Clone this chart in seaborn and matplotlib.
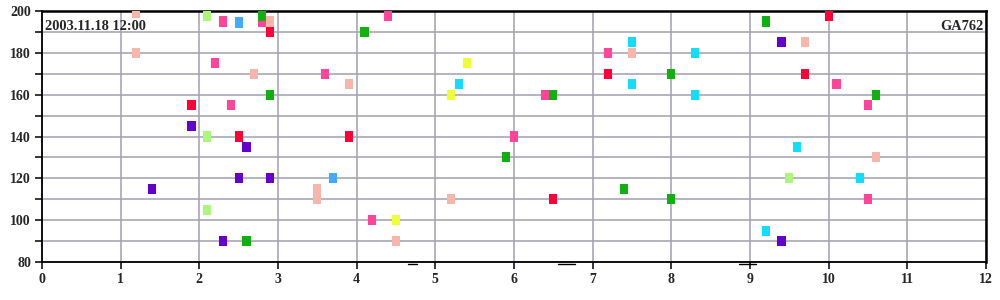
import matplotlib
matplotlib.use("Agg")
import matplotlib.pyplot as plt
import seaborn as sns
import pandas as pd
from matplotlib.ticker import MultipleLocator

# ---- data ----
salmon_x = [1.2, 2.9, 1.2, 2.7, 3.9, 7.5, 9.7, 10.6, 3.5, 3.5, 5.2, 4.5]
salmon_y = [199, 195, 180, 170, 165, 180, 185, 130, 115, 110, 110, 90]
pink_x = [2.3, 2.8, 4.4, 2.2, 3.6, 7.2, 10.1, 6.4, 2.4, 10.5, 6.0, 10.5, 4.2]
pink_y = [195, 195, 197.5, 175, 170, 180, 165, 160, 155, 155, 140, 110, 100]
red_x = [2.9, 10.0, 7.2, 9.7, 1.9, 2.5, 3.9, 6.5]
red_y = [190, 197.5, 170, 170, 155, 140, 140, 110]
purple_x = [9.4, 1.9, 2.6, 2.5, 2.9, 1.4, 2.3, 9.4]
purple_y = [185, 145, 135, 120, 120, 115, 90, 90]
lgreen_x = [2.1, 2.1, 9.5, 2.1]
lgreen_y = [197.5, 140, 120, 105]
blue_x = [2.5, 3.7]
blue_y = [194.5, 120]
cyan_x = [7.5, 8.3, 5.3, 7.5, 8.3, 9.6, 10.4, 9.2]
cyan_y = [185, 180, 165, 165, 160, 135, 120, 95]
yellow_x = [5.4, 5.2, 4.5]
yellow_y = [175, 160, 100]
green_x = [2.8, 4.1, 9.2, 8.0, 2.9, 6.5, 10.6, 5.9, 7.4, 8.0, 2.6]
green_y = [197.5, 190, 195, 170, 160, 160, 160, 130, 115, 110, 90]

series = {
    "salmon": (salmon_x, salmon_y, "#F8B5AA"),
    "pink": (pink_x, pink_y, "#FF4499"),
    "red": (red_x, red_y, "#FF0038"),
    "purple": (purple_x, purple_y, "#6600CC"),
    "lightgreen": (lgreen_x, lgreen_y, "#AAF77C"),
    "blue": (blue_x, blue_y, "#44AAFF"),
    "cyan": (cyan_x, cyan_y, "#11DDFF"),
    "yellow": (yellow_x, yellow_y, "#EEFF33"),
    "green": (green_x, green_y, "#11B011"),
}

# small dashes just below the x axis
dash_x0 = [4.65, 6.56, 8.86]
dash_x1 = [4.77, 6.78, 9.07]
dash_y = 79.0

title_left = "2003.11.18 12:00"
title_right = "GA762"

rows = []
for name, (xs, ys, c) in series.items():
    for x, y in zip(xs, ys):
        rows.append({"x": x, "y": y, "s": name})
df = pd.DataFrame(rows)
palette = {k: v[2] for k, v in series.items()}

sns.set_style("white")
plt.rcParams["font.family"] = ["Liberation Serif", "DejaVu Serif"]
plt.rcParams["font.weight"] = "bold"

fig = plt.figure(figsize=(10, 3), dpi=100)
ax = fig.add_axes([0.042, 0.1267, 0.944, 0.8366])

rect = [(-0.4, -0.5), (0.4, -0.5), (0.4, 0.5), (-0.4, 0.5), (-0.4, -0.5)]
sns.scatterplot(data=df, x="x", y="y", hue="s", palette=palette, marker=rect,
                s=7.3 ** 2, linewidth=0, legend=False, ax=ax, zorder=3)

ax.set_xlim(0, 12)
ax.set_ylim(80, 200)
ax.xaxis.set_major_locator(MultipleLocator(1))
ax.yaxis.set_major_locator(MultipleLocator(20))
ax.yaxis.set_minor_locator(MultipleLocator(10))
ax.grid(True, which="both", color="#A0A0B2", linewidth=1.1, zorder=0)
ax.set_axisbelow(True)
ax.set_xlabel("")
ax.set_ylabel("")

for sp in ["left", "bottom"]:
    ax.spines[sp].set_color("black")
    ax.spines[sp].set_linewidth(1.3)
for sp in ["top", "right"]:
    ax.spines[sp].set_color("black")
    ax.spines[sp].set_linewidth(1.8)

ax.tick_params(which="both", direction="out", length=5, width=1.1, color="black",
               labelsize=10, pad=3, left=True, bottom=True)
for lab in ax.get_xticklabels() + ax.get_yticklabels():
    lab.set_fontweight("bold")

for a, b in zip(dash_x0, dash_x1):
    ax.plot([a, b], [dash_y, dash_y], color="black", linewidth=1, clip_on=False)

ax.text(0.003, 0.965, title_left, transform=ax.transAxes, ha="left", va="top",
        fontsize=10.4, fontweight="bold", zorder=5)
ax.text(0.997, 0.965, title_right, transform=ax.transAxes, ha="right", va="top",
        fontsize=10.4, fontweight="bold", zorder=5)

fig.savefig("out.png", dpi=100)
